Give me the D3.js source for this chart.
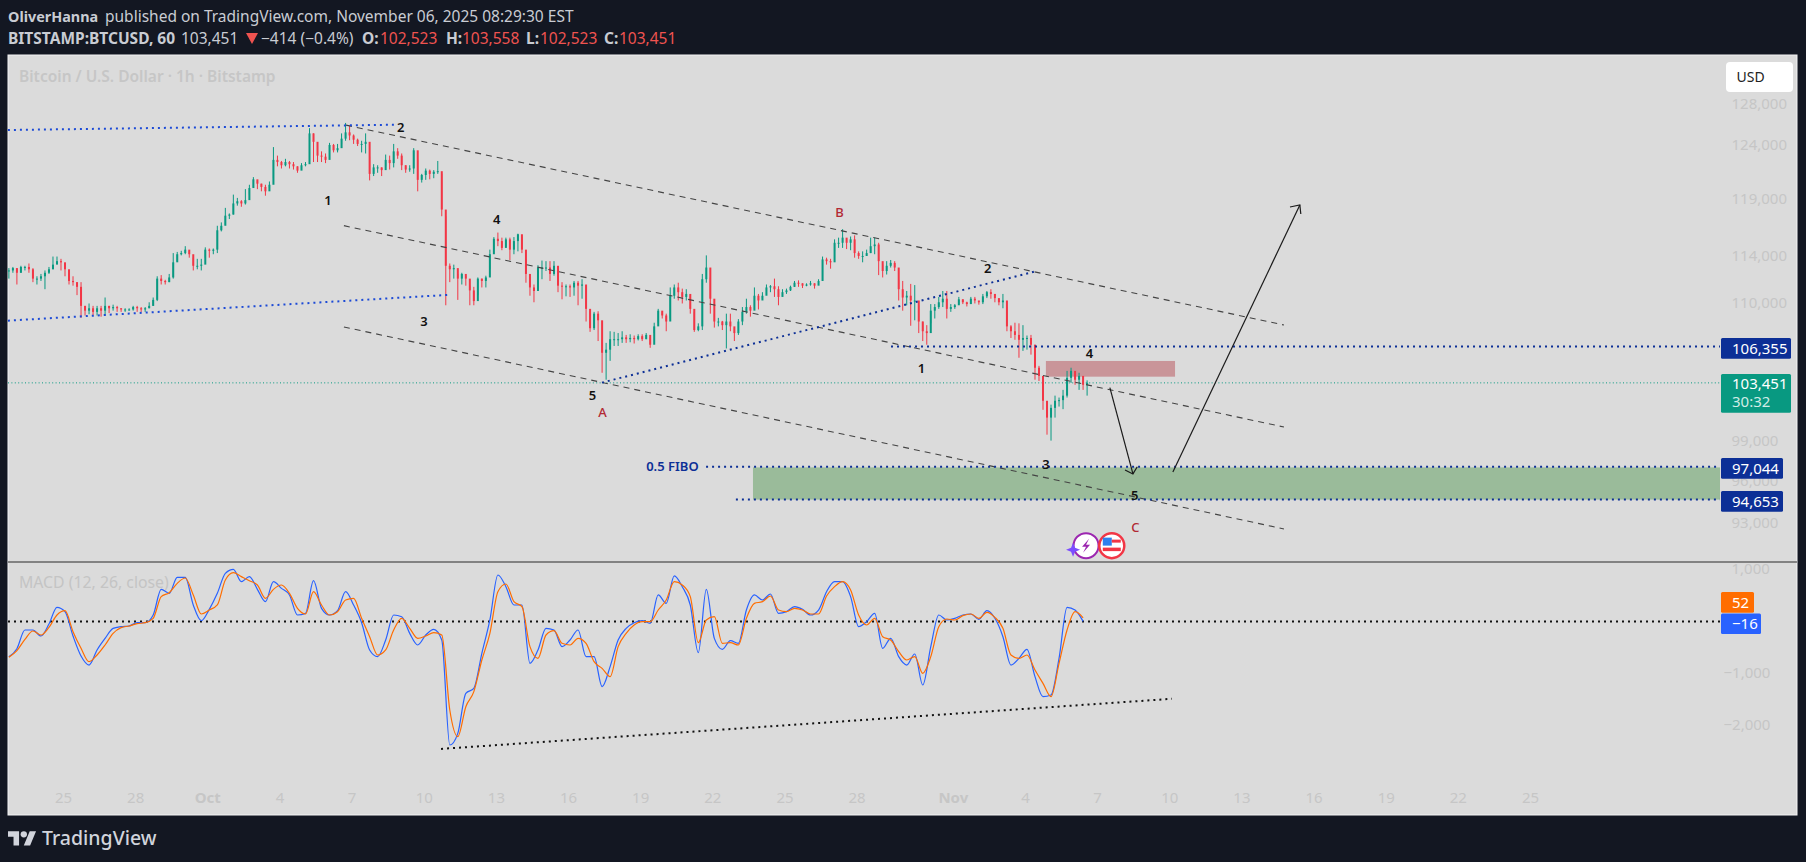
<!DOCTYPE html>
<html>
<head>
<meta charset="utf-8">
<script src="https://cdn.jsdelivr.net/npm/d3@7"></script>
<style>
  html, body { margin: 0; background: #131722; overflow: hidden; }
  text { font-family: "Noto Sans", sans-serif; }
</style>
</head>
<body>
<div id="chart"></div>
<script>
// precios en miles de USD, una vela cada 4 horas
const candleClose = [
  112.7,112.9,112.5,113.0,113.0,112.8,112.0,112.0,112.2,112.5,
  112.8,113.2,113.5,113.4,112.8,111.8,111.7,111.3,109.7,109.3,
  109.5,109.2,109.5,109.3,109.7,109.5,109.6,109.5,109.4,109.4,
  109.4,109.6,109.5,109.4,109.5,109.7,110.2,112.0,111.8,111.7,
  112.1,113.4,114.1,114.2,114.5,114.1,113.1,113.1,113.2,114.5,
  114.4,114.5,116.2,116.6,117.5,117.6,118.6,118.8,118.6,118.9,
  120.0,120.8,120.4,120.1,119.7,120.3,122.6,122.4,122.1,122.4,
  122.2,122.0,121.6,122.1,122.2,125.1,124.3,123.0,122.9,122.6,
  124.0,123.5,123.7,124.6,125.2,124.9,124.5,124.1,124.1,124.3,
  121.3,121.9,121.9,121.65,122.6,122.3,123.4,123.0,122.1,121.7,
  121.8,123.5,120.75,121.2,121.6,121.3,121.5,121.55,118.05,113.1,
  112.8,112.9,112.0,112.4,112.0,111.0,110.1,112.0,111.8,112.1,
  114.1,115.45,115.25,114.65,115.4,114.5,115.25,115.85,114.5,112.4,
  111.25,110.95,112.95,112.95,112.95,112.4,113.1,111.4,111.35,111.35,
  111.25,111.65,111.4,111.5,109.45,107.85,109.05,108.5,105.85,106.1,
  106.95,106.95,106.95,107.1,106.95,107.05,106.95,107.2,106.95,107.3,
  106.5,108.0,109.3,108.9,108.4,110.55,111.25,110.85,110.45,110.7,
  109.45,107.7,108.0,111.95,112.95,110.3,108.4,108.4,108.1,108.4,
  108.0,107.45,108.4,109.2,109.6,109.3,110.55,110.15,110.55,111.25,
  111.35,111.1,110.45,110.85,111.0,111.3,111.65,111.6,111.4,111.5,
  111.6,111.4,111.8,113.65,113.5,113.4,115.1,115.1,115.55,115.1,
  115.4,114.2,113.95,113.95,114.2,114.8,114.95,113.5,112.65,113.1,
  113.35,112.95,111.1,110.4,110.55,110.15,110.15,108.4,107.6,107.45,
  109.3,109.6,110.0,110.3,109.45,109.6,109.75,110.25,110.0,109.85,
  110.3,110.15,110.0,110.5,110.85,110.7,110.35,110.0,110.15,108.0,
  107.6,107.3,106.9,107.05,107.05,106.5,104.65,104.0,102.05,100.75,
  101.5,102.05,102.1,102.45,103.85,104.4,103.7,104.0,103.3,103.451
]
const candleHigh = [
  112.9,113.0,112.9,113.1,113.1,113.3,112.9,112.2,112.4,112.7,
  113.0,113.9,113.9,113.7,113.2,112.5,112.2,111.7,111.7,109.7,
  109.9,109.7,109.7,109.7,110.4,109.7,109.8,109.7,109.5,109.5,
  109.5,109.7,109.7,109.6,109.6,110.0,110.4,112.2,112.3,111.9,
  112.4,114.2,114.3,114.4,114.8,114.4,113.8,113.7,113.7,114.7,
  114.6,114.6,116.6,116.9,118.2,117.7,119.4,119.1,118.9,119.9,
  120.3,121.0,120.7,120.4,120.3,120.6,123.8,123.0,122.5,122.7,
  122.5,122.4,122.0,122.3,122.4,125.6,125.1,123.4,123.4,123.2,
  124.2,124.1,124.1,125.1,126.1,125.8,125.0,124.6,124.4,125.1,
  122.9,122.2,122.1,121.9,123.1,123.0,124.1,123.7,123.2,122.1,
  122.1,123.7,122.6,121.3,121.8,121.7,121.65,122.5,121.3,117.45,
  113.3,113.2,112.4,112.5,112.2,111.4,111.3,112.1,112.0,112.25,
  114.5,115.6,116.0,115.55,115.55,115.55,115.6,115.9,115.6,113.7,
  112.1,111.5,113.15,113.55,113.5,113.5,113.5,112.3,111.7,111.5,
  111.5,111.8,111.8,111.95,111.45,109.25,109.2,109.25,106.9,106.65,
  107.6,107.55,107.45,107.6,107.3,107.35,107.25,107.35,107.35,107.45,
  107.1,108.3,109.45,109.2,109.05,111.25,111.5,111.65,111.15,111.1,
  110.55,109.2,108.25,112.4,114.0,112.1,109.05,108.7,108.45,109.05,
  109.05,107.85,108.6,109.6,110.3,109.75,111.25,110.7,110.85,111.5,
  111.45,112.0,111.35,111.1,111.15,111.4,111.8,111.85,111.6,111.6,
  111.8,111.6,111.95,113.9,113.8,113.7,115.4,115.55,116.3,115.4,
  115.65,115.75,114.35,114.35,114.5,115.55,115.55,115.1,113.2,113.5,
  113.6,113.5,111.9,111.8,110.95,111.55,111.45,109.75,108.4,108.1,
  109.85,109.85,110.45,110.95,110.95,109.85,109.85,110.45,110.25,110.05,
  110.45,110.45,110.05,110.7,110.95,111.1,110.7,110.3,110.7,109.6,
  108.1,108.3,108.25,108.1,107.25,107.3,106.5,104.8,103.7,101.75,
  101.75,102.45,102.3,102.9,104.4,104.65,104.1,104.25,103.65,103.65
]
const candleLow = [
  112.0,112.5,111.5,112.5,112.7,112.5,111.7,111.5,111.8,111.1,
  112.4,112.8,113.3,112.7,112.2,111.5,111.4,110.6,108.7,108.9,
  109.0,108.9,108.9,108.8,108.9,109.1,109.3,109.2,109.2,109.2,
  109.3,109.3,109.2,109.2,109.2,109.5,109.7,110.1,111.5,111.5,
  111.7,112.0,113.5,114.0,114.1,113.8,112.7,112.8,112.7,113.8,
  113.8,114.1,114.2,116.1,116.7,117.2,117.6,118.4,118.3,118.5,
  119.4,120.1,119.9,119.7,119.3,120.0,120.9,122.0,121.8,122.0,
  121.8,121.7,121.4,121.8,122.0,122.3,122.4,122.4,122.4,122.3,
  123.4,123.3,123.3,124.1,124.4,124.45,124.1,123.9,123.3,123.2,
  120.7,121.1,121.4,121.1,122.0,121.7,121.9,122.7,121.65,121.4,
  121.5,121.3,119.7,120.5,120.75,120.8,120.9,121.3,117.45,109.75,
  111.7,112.0,110.2,111.5,111.4,109.75,109.75,110.6,111.25,111.25,
  112.8,114.5,114.8,114.45,114.8,113.6,114.1,114.35,114.2,111.65,
  110.55,110.0,111.1,111.95,112.65,111.8,112.25,110.85,110.25,110.5,
  110.45,110.55,109.75,110.3,108.4,107.55,107.7,106.8,104.25,103.7,
  105.2,106.4,106.4,106.65,106.65,106.7,106.6,106.85,106.8,106.95,
  106.25,107.45,108.3,108.65,107.6,108.65,110.3,110.15,109.9,110.15,
  109.05,107.55,107.6,107.7,111.65,109.05,107.9,108.0,107.7,106.2,
  107.6,106.8,107.3,108.1,109.05,108.8,109.45,109.4,110.3,110.7,
  110.85,110.45,109.75,110.5,110.7,110.95,111.3,111.3,111.2,111.35,
  111.4,111.15,111.6,111.8,113.2,112.85,114.35,114.65,114.65,114.55,
  114.45,113.8,113.7,113.4,113.95,114.2,114.1,112.3,112.1,112.35,
  112.95,112.65,110.15,109.3,109.75,108.05,108.5,107.45,106.8,106.5,
  108.25,108.65,109.45,109.6,108.65,109.2,109.45,109.85,109.85,109.65,
  109.85,109.9,109.8,109.85,110.35,110.3,110.0,109.75,109.5,107.6,
  107.05,106.9,105.45,106.0,106.1,105.7,103.7,103.6,101.35,99.45,
  99.0,100.75,101.6,101.4,102.3,103.45,103.3,102.9,102.9,102.45
]

// MACD, un punto cada 8 horas
const macdLine = [
  -693,-540,-182,-182,-297,-67,252,169,-297,-680,
  -853,-565,-342,-150,-118,-105,-42,-42,105,597,
  520,827,827,297,-3,214,520,904,980,744,
  840,597,361,744,616,489,105,137,763,233,
  105,188,552,297,-42,-565,-693,-374,105,73,
  -246,-469,-278,-169,-374,-2385,-2162,-1395,-1300,-629,
  10,872,648,297,297,-821,-565,-150,-182,-501,
  -374,-182,-693,-693,
  -1268,-884,-374,-150,-42,-3,-54,489,329,853,
  648,297,-616,597,-342,-552,-386,-437,201,489,
  393,508,137,169,265,214,105,201,552,744,
  744,457,-118,-22,137,-533,-342,-693,-853,-642,
  -1236,-501,105,10,42,105,125,22,188,42,
  -310,-853,-725,-552,-1076,-1459,-1427,-725,252,201,
  -16
]
const signalLine = [
  -706,-578,-361,-201,-278,-131,105,188,-214,-533,
  -789,-661,-469,-246,-137,-105,-61,-42,42,457,
  533,712,814,489,125,201,297,776,916,840,
  763,680,425,597,680,520,233,125,552,297,
  105,169,393,425,42,-310,-661,-565,-182,42,
  -150,-342,-297,-233,-278,-1715,-2226,-1651,-1363,-757,
  -246,552,699,361,265,-501,-725,-278,-195,-437,
  -469,-342,-437,-789,
  -916,-1076,-501,-246,-86,-22,-22,201,393,744,
  680,457,-425,10,73,-437,-425,-469,42,329,
  361,469,201,169,233,201,125,125,469,648,
  744,584,105,-86,42,-310,-374,-597,-757,-693,
  -1012,-693,-118,29,10,93,125,42,156,61,
  -150,-661,-725,-661,-948,-1204,-1459,-821,-182,169,
  52
]

// eje temporal: dias desde el 25 de septiembre
const timeTicks = [0,3,6,9,12,15,18,21,24,27,30,33,37,40,43,46,49,52,55,58,61]
const timeLabels = ['25','28','Oct','4','7','10','13','16','19','22','25','28','Nov','4','7','10','13','16','19','22','25']
const priceTicks = [128000,124000,119000,114000,110000,99000,96000,93000]
const macdTicks = [1000,-1000,-2000]

// dibujos del autor: [dia, miles de USD]
const channelTop = [[11.77,125.89],[50.77,108.11]]
const channelMid = [[11.68,116.61],[50.77,100.03]]
const channelLow = [[11.68,107.95],[50.77,92.56]]
const resistLine = [[-2.29,125.42],[13.8,125.93]]
const supportLine = [[-2.29,108.47],[16.01,110.62]]
const waveLine = [[22.41,103.47],[40.37,112.59]]
const levelLines = [[34.43,106.355],[26.74,97.044],[27.98,94.653]]
const greenZone = [28.69,97.0,68.9,94.653]
const redZone = [40.87,105.19,46.24,103.94]
const arrowDown = [[43.53,103.07],[44.49,96.52]]
const arrowDownHead = [[44.16,96.81],[44.49,96.52],[44.67,97.05]]
const arrowUp = [[46.15,96.66],[51.43,118.46]]
const arrowUpHead = [[51.02,118.28],[51.43,118.46],[51.47,117.65]]
const macdTrend = [[15.72,-2460],[46.11,-1500]]
const waveLabels = [
  ['2',14.04,125.71],['1',11.02,118.91],['4',18.03,117.18],['3',15.01,108.44],['5',22.02,102.45],
  ['2',38.45,112.91],['1',35.7,104.63],['4',42.68,105.81],['3',40.87,97.25],['5',44.56,94.98]
]
const cycleLabels = [['A',22.43,101.14],['B',32.29,117.8],['C',44.59,92.68]]
const lastPrice = 103451
const macdZero = -20
const eventDays = [42.54,43.61]
const eventPrice = 91.39

const width = 1806
const height = 862
const panel = { left: 8, right: 1797, top: 55, bottom: 815 }
const plotRight = 1720

const dayX = d3.scaleLinear().domain([0, 61]).range([63, 1530])
const priceY = d3.scaleLog().domain([93000, 128000]).range([522.7, 103.3])
const macdY = d3.scaleLinear().domain([-2000, 1000]).range([724.9, 568.3])

const barDay = i => -2.25 + i / 6
const macdDay = i => -2.25 + i / 3

const svg = d3.select('#chart').append('svg')
  .attr('width', width)
  .attr('height', height)
  .style('display', 'block')

svg.append('rect').attr('width', width).attr('height', height).attr('fill', '#131722')
svg.append('rect')
  .attr('x', panel.left).attr('y', panel.top)
  .attr('width', panel.right - panel.left).attr('height', panel.bottom - panel.top)
  .attr('fill', '#dbdbdb').attr('stroke', '#f4f4f4')

/* Encabezado */
const header = svg.append('g')
const headText = (x, y, txt, fill, weight) => header.append('text')
  .attr('x', x).attr('y', y).text(txt)
  .attr('fill', fill).attr('font-size', 15.5).attr('font-weight', weight || 400)

const headGrey = '#c9ccd3'
const headRed = '#ef5350'
headText(8, 21.5, 'OliverHanna', headGrey, 700).attr('font-size', 14.4)
headText(105, 21.5, 'published on TradingView.com, November 06, 2025 08:29:30 EST', headGrey)
headText(8, 43.5, 'BITSTAMP:BTCUSD, 60', headGrey, 700)
headText(181, 43.5, '103,451', headGrey)
header.append('path').attr('d', 'M246 33h12l-6 11z').attr('fill', headRed)
headText(261, 43.5, '−414 (−0.4%)', headGrey)
headText(362, 43.5, 'O:', headGrey, 700)
headText(380, 43.5, '102,523', headRed)
headText(446, 43.5, 'H:', headGrey, 700)
headText(462, 43.5, '103,558', headRed)
headText(526, 43.5, 'L:', headGrey, 700)
headText(540, 43.5, '102,523', headRed)
headText(604, 43.5, 'C:', headGrey, 700)
headText(619, 43.5, '103,451', headRed)

/* Marcas de agua */
svg.append('text').attr('x', 19).attr('y', 81.5)
  .text('Bitcoin / U.S. Dollar · 1h · Bitstamp')
  .attr('fill', '#c6c6c6').attr('font-size', 15.5).attr('font-weight', 600)
svg.append('text').attr('x', 19).attr('y', 588)
  .text('MACD (12, 26, close)')
  .attr('fill', '#c4c4c4').attr('font-size', 15.8)

/* Zonas */
svg.append('rect')
  .attr('x', dayX(greenZone[0])).attr('y', priceY(greenZone[1] * 1000))
  .attr('width', dayX(greenZone[2]) - dayX(greenZone[0]))
  .attr('height', priceY(greenZone[3] * 1000) - priceY(greenZone[1] * 1000))
  .attr('fill', '#9abb9a')
svg.append('rect')
  .attr('x', dayX(redZone[0])).attr('y', priceY(redZone[1] * 1000))
  .attr('width', dayX(redZone[2]) - dayX(redZone[0]))
  .attr('height', priceY(redZone[3] * 1000) - priceY(redZone[1] * 1000))
  .attr('fill', '#c99599')

/* Precio actual */
svg.append('line')
  .attr('x1', panel.left).attr('x2', plotRight)
  .attr('y1', priceY(lastPrice)).attr('y2', priceY(lastPrice))
  .attr('stroke', '#089981').attr('stroke-dasharray', '1 2.4')

/* Velas */
const candles = svg.append('g')
candles.selectAll('line')
  .data(candleClose)
  .join('line')
  .attr('x1', (d, i) => dayX(barDay(i)))
  .attr('x2', (d, i) => dayX(barDay(i)))
  .attr('y1', (d, i) => priceY(candleHigh[i] * 1000))
  .attr('y2', (d, i) => priceY(candleLow[i] * 1000))
  .attr('stroke', (d, i) => d >= (i ? candleClose[i - 1] : d) ? '#089981' : '#f23645')
candles.selectAll('rect')
  .data(candleClose)
  .join('rect')
  .attr('x', (d, i) => dayX(barDay(i)) - 1)
  .attr('width', 2)
  .attr('y', (d, i) => priceY(Math.max(d, i ? candleClose[i - 1] : d) * 1000))
  .attr('height', (d, i) => Math.max(1, Math.abs(priceY(d * 1000) - priceY((i ? candleClose[i - 1] : d) * 1000))))
  .attr('fill', (d, i) => d >= (i ? candleClose[i - 1] : d) ? '#089981' : '#f23645')

/* Lineas de tendencia */
const priceLine = d3.line().x(d => dayX(d[0])).y(d => priceY(d[1] * 1000))
const addPath = (pts, stroke, w, dash) => svg.append('path')
  .attr('d', priceLine(pts))
  .attr('fill', 'none').attr('stroke', stroke).attr('stroke-width', w)
  .attr('stroke-dasharray', dash || null)

addPath(channelTop, '#444', 1.1, '6 5')
addPath(channelMid, '#444', 1.1, '6 5')
addPath(channelLow, '#444', 1.1, '6 5')
addPath(resistLine, '#1c4ad6', 2, '2 4')
addPath(supportLine, '#1c4ad6', 2, '2 4')
addPath(waveLine, '#0c2f96', 2, '2 4')
levelLines.forEach(d => addPath([d, [68.9, d[1]]], '#0c2f96', 2, '2 4'))
addPath(arrowDown, '#1a1a1a', 1.2)
addPath(arrowDownHead, '#1a1a1a', 1.2)
addPath(arrowUp, '#1a1a1a', 1.2)
addPath(arrowUpHead, '#1a1a1a', 1.2)

/* Etiquetas de ondas */
svg.selectAll('.wave')
  .data(waveLabels)
  .join('text')
  .attr('class', 'wave')
  .attr('x', d => dayX(d[1])).attr('y', d => priceY(d[2] * 1000))
  .attr('dy', '0.36em').attr('text-anchor', 'middle')
  .attr('font-size', 13).attr('font-weight', 600).attr('fill', '#111')
  .text(d => d[0])
svg.selectAll('.cycle')
  .data(cycleLabels)
  .join('text')
  .attr('class', 'cycle')
  .attr('x', d => dayX(d[1])).attr('y', d => priceY(d[2] * 1000))
  .attr('dy', '0.36em').attr('text-anchor', 'middle')
  .attr('font-size', 13).attr('font-weight', 500).attr('fill', '#b22833')
  .text(d => d[0])
svg.append('text')
  .attr('x', dayX(25.34)).attr('y', priceY(97044))
  .attr('dy', '0.36em').attr('text-anchor', 'middle')
  .attr('font-size', 13).attr('font-weight', 600).attr('fill', '#0c2f96')
  .text('0.5 FIBO')

/* Iconos de eventos */
const ev1 = [dayX(eventDays[0]), priceY(eventPrice * 1000)]
const ev2 = [dayX(eventDays[1]), priceY(eventPrice * 1000)]
const icon1 = svg.append('g').attr('transform', `translate(${ev1})`)
icon1.append('circle').attr('r', 12.5).attr('fill', '#fff').attr('stroke', '#9c27b0').attr('stroke-width', 2)
icon1.append('path').attr('d', 'M3-7-4 1h4l-3 6 7-8H0z').attr('fill', '#9c27b0')
icon1.append('path').attr('d', 'M-13-3-11 2-6 4-11 6-13 11-15 6-20 4-15 2z').attr('fill', '#7c4dff')
const icon2 = svg.append('g').attr('transform', `translate(${ev2})`)
icon2.append('circle').attr('r', 12.5).attr('fill', '#fff').attr('stroke', '#f23645').attr('stroke-width', 2.5)
icon2.append('rect').attr('x', -9).attr('y', -8).attr('width', 9).attr('height', 8).attr('fill', '#2f80ed')
icon2.append('rect').attr('x', 0).attr('y', -6).attr('width', 9).attr('height', 3).attr('fill', '#f23645')
icon2.append('rect').attr('x', -9).attr('y', 2).attr('width', 18).attr('height', 3.5).attr('fill', '#f23645')

/* Separador de paneles */
svg.append('line')
  .attr('x1', panel.left).attr('x2', panel.right)
  .attr('y1', 562).attr('y2', 562)
  .attr('stroke', '#2a2a2a').attr('stroke-width', 1.2)

/* MACD */
svg.append('line')
  .attr('x1', panel.left).attr('x2', plotRight)
  .attr('y1', macdY(macdZero)).attr('y2', macdY(macdZero))
  .attr('stroke', '#111').attr('stroke-width', 2).attr('stroke-dasharray', '2 4')
const macdPath = d3.line().curve(d3.curveMonotoneX).x((d, i) => dayX(macdDay(i))).y(d => macdY(d))
svg.append('path').attr('d', macdPath(macdLine))
  .attr('fill', 'none').attr('stroke', '#2962ff').attr('stroke-width', 1.2)
svg.append('path').attr('d', macdPath(signalLine))
  .attr('fill', 'none').attr('stroke', '#ff6d00').attr('stroke-width', 1.2)
svg.append('path')
  .attr('d', d3.line().x(d => dayX(d[0])).y(d => macdY(d[1]))(macdTrend))
  .attr('fill', 'none').attr('stroke', '#111').attr('stroke-width', 2).attr('stroke-dasharray', '2 4')

/* Ejes */
const axisFont = g => {
  g.select('.domain').remove()
  g.selectAll('.tick line').remove()
  g.selectAll('text')
    .attr('fill', '#c6c6c6').attr('font-size', 15)
    .style('font-family', '"Noto Sans", sans-serif')
}
svg.append('g')
  .attr('transform', 'translate(1731.5,0)')
  .call(d3.axisRight(priceY).tickValues(priceTicks).tickSize(0).tickPadding(0).tickFormat(d3.format(',')))
  .call(axisFont)
svg.append('g')
  .attr('transform', 'translate(1731.5,0)')
  .call(d3.axisRight(macdY).tickValues(macdTicks).tickSize(0).tickPadding(0).tickFormat(d3.format(',')))
  .call(axisFont)
  .call(g => g.selectAll('text').filter(d => d < 0).attr('dx', -8))
svg.append('g')
  .attr('transform', 'translate(0,792)')
  .call(d3.axisBottom(dayX).tickValues(timeTicks).tickSize(0).tickPadding(0).tickFormat((d, i) => timeLabels[i]))
  .call(axisFont)
  .call(g => g.selectAll('text').filter((d, i) => /[A-Z]/.test(timeLabels[i])).attr('font-weight', 700))

/* USD */
svg.append('rect')
  .attr('x', 1726).attr('y', 62).attr('width', 67).attr('height', 30).attr('rx', 4)
  .attr('fill', '#fff')
svg.append('text').attr('x', 1736.5).attr('y', 82)
  .text('USD').attr('fill', '#222').attr('font-size', 14)

/* Etiquetas de precio */
const priceTag = (y0, y1, w, fill, txt) => {
  svg.append('rect').attr('x', 1721).attr('y', y0).attr('width', w).attr('height', y1 - y0)
    .attr('fill', fill).attr('rx', 1.5)
  svg.append('text').attr('x', 1732).attr('y', (y0 + y1) / 2).attr('dy', '0.36em')
    .text(txt).attr('fill', '#fff').attr('font-size', 15)
}
priceTag(338, 358.7, 70, '#0c2f96', '106,355')
priceTag(458, 478.7, 62, '#0c2f96', '97,044')
priceTag(491, 511.7, 62, '#0c2f96', '94,653')
svg.append('rect').attr('x', 1721).attr('y', 374).attr('width', 70).attr('height', 38.7)
  .attr('fill', '#089981').attr('rx', 1.5)
svg.append('text').attr('x', 1732).attr('y', 389).text('103,451').attr('fill', '#fff').attr('font-size', 15)
svg.append('text').attr('x', 1732).attr('y', 407).text('30:32').attr('fill', '#d0ece6').attr('font-size', 15)
priceTag(592, 612.7, 33, '#ff6d00', '52')
priceTag(613.5, 634, 40, '#2962ff', '−16')

/* Logo */
const logo = svg.append('g').attr('transform', 'translate(8,828) scale(0.79)')
logo.append('path').attr('d', 'M14 22H7V11H0V4h14v18zM28 22h-8l7.5-18h8L28 22z').attr('fill', '#d1d4dc')
logo.append('circle').attr('cx', 20).attr('cy', 8).attr('r', 4).attr('fill', '#d1d4dc')
svg.append('text').attr('x', 42).attr('y', 845)
  .text('TradingView').attr('fill', '#d1d4dc').attr('font-size', 19.5).attr('font-weight', 500)
</script>
</body>
</html>
